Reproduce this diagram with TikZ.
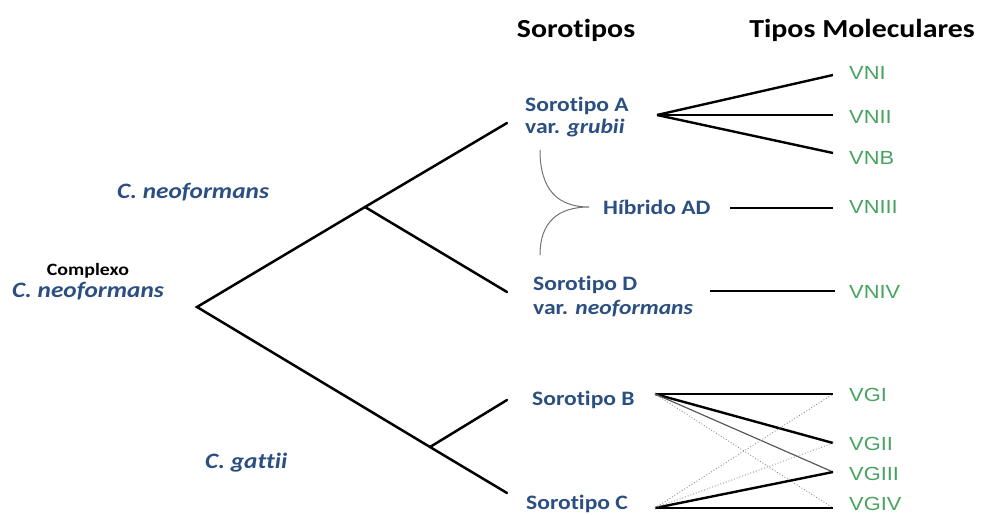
\documentclass[tikz,border=0pt]{standalone}
\usepackage{fontspec}
\setmainfont{Carlito}[FakeStretch=1.15, Ligatures={NoCommon}]
\newfontfamily\gfont{Liberation Sans}[FakeStretch=1.15]
\definecolor{sblue}{RGB}{44,79,130}
\definecolor{sgreen}{RGB}{72,163,96}
\tikzset{
  tree/.style={line width=2.5pt, line cap=round},
  link/.style={line width=2.4pt},
  thin link/.style={line width=1.2pt, black!65},
  dot link/.style={line width=0.9pt, black!45, dotted},
  brace/.style={line width=1pt, black!55},
  hdr/.style={anchor=base, inner sep=0pt, font=\fontsize{26}{30}\selectfont\bfseries},
  blab/.style={anchor=base west, inner sep=0pt, text=sblue, font=\fontsize{20.5}{24}\selectfont\bfseries},
  ilab/.style={anchor=base west, inner sep=0pt, text=sblue, font=\fontsize{22}{26}\selectfont\bfseries\itshape},
  glab/.style={anchor=base west, inner sep=0pt, text=sgreen, font=\fontsize{19}{22}\gfont},
}
\begin{document}
\begin{tikzpicture}[x=1pt,y=-1pt]
\useasboundingbox (0,0) rectangle (981,514);
% headers
\node[hdr] (h1) at (576,37) {Sorotipos};
\node[hdr] (h2) at (862,37) {Tipos Moleculares};
% left labels
\node[ilab] (cneo) at (117,198) {C. neoformans};
\node[anchor=base, inner sep=0pt, font=\fontsize{17.3}{20}\selectfont\bfseries] (compl) at (88,275) {Complexo};
\node[ilab, anchor=base] (cneo2) at (88,297) {C. neoformans};
\node[ilab] (cgat) at (205,468) {C. gattii};
% tree
\coordinate (root) at (197,307);
\coordinate (nJ) at (365,207);
\coordinate (gJ) at (430,447);
\coordinate (tA) at (507,123);
\coordinate (tD) at (507,292);
\coordinate (tB) at (507,400);
\coordinate (tC) at (507,493);
\draw[tree] (tA) -- (nJ) -- (root) -- (gJ) -- (tC);
\draw[tree] (nJ) -- (tD);
\draw[tree] (gJ) -- (tB);
% serotypes
\node[blab] (sA) at (525,111) {Sorotipo A};
\node[blab] (sA2) at (525,133) {var. \textit{grubii}};
\node[blab] (hib) at (603,214) {Híbrido AD};
\node[blab] (sD) at (533,290) {Sorotipo D};
\node[blab] (sD2) at (533,314) {var. \textit{neoformans}};
\node[blab] (sB) at (532,405) {Sorotipo B};
\node[blab] (sC) at (526,509) {Sorotipo C};
% brace
\coordinate (brT) at (540,150);
\coordinate (brM) at (589,207);
\coordinate (brB) at (540,255);
\draw[brace] (brT) .. controls (540,190) and (558,207) .. (brM)
  .. controls (558,207) and (540,222) .. (brB);
% molecular types
\node[glab] (vni) at (849,79) {VNI};
\node[glab] (vnii) at (849,123) {VNII};
\node[glab] (vnb) at (849,164) {VNB};
\node[glab] (vniii) at (849,213) {VNIII};
\node[glab] (vniv) at (849,298) {VNIV};
\node[glab] (vgi) at (849,401) {VGI};
\node[glab] (vgii) at (849,450) {VGII};
\node[glab] (vgiii) at (849,480) {VGIII};
\node[glab] (vgiv) at (849,510) {VGIV};
% line ends
\coordinate (fA) at (657,115);
\coordinate (eVNI) at (833,75);
\coordinate (eVNII) at (833,115);
\coordinate (eVNB) at (833,153);
\coordinate (sH) at (730,208);
\coordinate (eVNIII) at (833,208);
\coordinate (sDl) at (710,291);
\coordinate (eVNIV) at (835,291);
\coordinate (fB) at (655,394);
\coordinate (fC) at (655,508);
\coordinate (eVGI) at (833,394);
\coordinate (eVGII) at (833,443);
\coordinate (eVGIII) at (833,472);
\coordinate (eVGIV) at (833,508);
\draw[link] (fA) -- (eVNI);
\draw[link] (fA) -- (eVNII);
\draw[link] (fA) -- (eVNB);
\draw[link] (sH) -- (eVNIII);
\draw[link] (sDl) -- (eVNIV);
\draw[link] (fB) -- (eVGI);
\draw[link] (fB) -- (eVGII);
\draw[thin link] (fB) -- (eVGIII);
\draw[dot link] (fB) -- (eVGIV);
\draw[link] (fC) -- (eVGIV);
\draw[link] (fC) -- (eVGIII);
\draw[dot link] (fC) -- (eVGII);
\draw[dot link] (fC) -- (eVGI);
\end{tikzpicture}
\end{document}
